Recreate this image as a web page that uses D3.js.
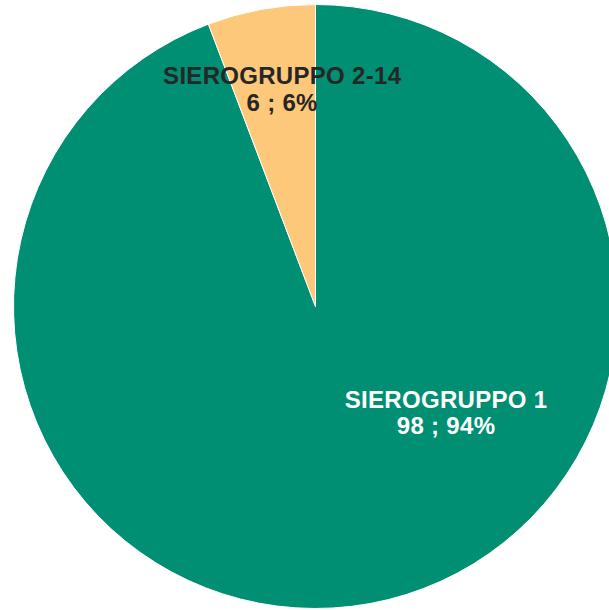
<!DOCTYPE html>
<html>
<head>
    <meta charset="utf-8">
    <script src="https://d3js.org/d3.v7.min.js"></script>
    <style>
        body { margin: 0; background: #fff; }
        text { font-family: "Liberation Sans", Arial, sans-serif; font-weight: bold; }
    </style>
</head>
<body>
<div id="chart"></div>
<script>
    // data
    const categories = ["SIEROGRUPPO 1", "SIEROGRUPPO 2-14"];
    const counts = [98, 6];
    const colors = ["#008f72", "#fdc879"];
    const textColors = ["#ffffff", "#262626"];

    const width = 609, height = 610;
    const cx = 315.5, cy = 306.5, radius = 302;

    // label placement: polar offset from the centre (degrees clockwise from top, distance)
    const labelPos = [[131, 173], [351, 213]];

    const total = d3.sum(counts);
    const data = categories.map((c, i) => ({ name: c, value: counts[i], i: i }));

    const svg = d3.select("#chart").append("svg")
        .attr("width", width)
        .attr("height", height);

    const g = svg.append("g").attr("transform", `translate(${cx},${cy})`);

    const pie = d3.pie().value(d => d.value).sort(null);
    const arc = d3.arc().innerRadius(0).outerRadius(radius);

    const arcs = pie(data);

    g.selectAll("path")
        .data(arcs)
        .enter()
        .append("path")
        .attr("d", arc)
        .attr("fill", d => colors[d.data.i])
        .attr("stroke", "#fff")
        .attr("stroke-width", 1);

    const labels = g.selectAll("text.lbl")
        .data(arcs)
        .enter()
        .append("text")
        .attr("class", "lbl")
        .attr("text-anchor", "middle")
        .attr("fill", d => textColors[d.data.i])
        .style("font-size", "24px")
        .style("letter-spacing", "0.3px")
        .attr("transform", d => {
            const p = labelPos[d.data.i];
            const a = p[0] * Math.PI / 180;
            return `translate(${Math.sin(a) * p[1]},${-Math.cos(a) * p[1]})`;
        });

    labels.append("tspan")
        .attr("x", 0)
        .attr("dy", "-0.5em")
        .text(d => d.data.name);

    labels.append("tspan")
        .attr("x", 0)
        .attr("dy", "1.1em")
        .text(d => d.data.value + " ; " + Math.round(d.data.value / total * 100) + "%");
</script>
</body>
</html>
